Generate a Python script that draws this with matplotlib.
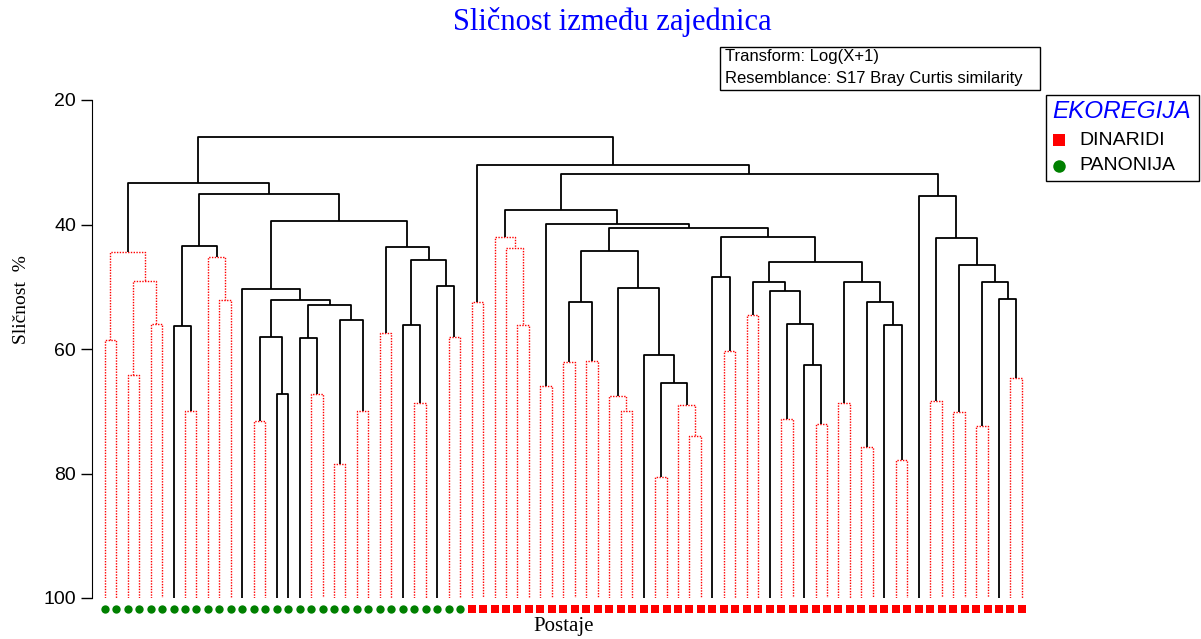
import matplotlib
matplotlib.use("Agg")
import matplotlib.pyplot as plt
from matplotlib.patches import Rectangle

# leaves: 0..31 PANONIJA, 32..80 DINARIDI
n_panonija = 32
n_dinaridi = 49

# merges: (name, left child, right child, similarity %, significant)
merges = [
    ("n01", 0, 1, 58.6, False),
    ("n23", 2, 3, 64.1, False),
    ("n45", 4, 5, 56.0, False),
    ("n2345", "n23", "n45", 49.0, False),
    ("A", "n01", "n2345", 44.4, False),
    ("n78", 7, 8, 70.0, False),
    ("n678", 6, "n78", 56.3, True),
    ("n1011", 10, 11, 52.1, False),
    ("n911", 9, "n1011", 45.2, False),
    ("B", "n678", "n911", 43.4, True),
    ("n1314", 13, 14, 71.5, False),
    ("n1516", 15, 16, 67.3, True),
    ("n1316", "n1314", "n1516", 58.0, True),
    ("n1819", 18, 19, 67.3, False),
    ("n1719", 17, "n1819", 58.3, True),
    ("n2021", 20, 21, 78.5, False),
    ("n2223", 22, 23, 69.9, False),
    ("C1", "n2021", "n2223", 55.4, True),
    ("C2", "n1719", "C1", 53.0, True),
    ("C3", "n1316", "C2", 52.1, True),
    ("C4", 12, "C3", 50.4, True),
    ("n2425", 24, 25, 57.5, False),
    ("n2728", 27, 28, 68.6, False),
    ("n2628", 26, "n2728", 56.2, True),
    ("n3031", 30, 31, 58.0, False),
    ("n2931", 29, "n3031", 49.8, True),
    ("D", "n2628", "n2931", 45.7, True),
    ("E", "n2425", "D", 43.6, True),
    ("F", "C4", "E", 39.4, True),
    ("G", "B", "F", 35.1, True),
    ("H", "A", "G", 33.4, True),
    ("n3233", 32, 33, 52.5, False),
    ("n3637", 36, 37, 56.2, False),
    ("n3537", 35, "n3637", 43.8, False),
    ("R1", 34, "n3537", 42.0, False),
    ("n3839", 38, 39, 65.9, False),
    ("n4041", 40, 41, 62.1, False),
    ("n4243", 42, 43, 61.9, False),
    ("n4043", "n4041", "n4243", 52.4, True),
    ("n4546", 45, 46, 69.9, False),
    ("n4446", 44, "n4546", 67.5, False),
    ("n4849", 48, 49, 80.6, False),
    ("n5152", 51, 52, 74.0, False),
    ("n5052", 50, "n5152", 69.0, False),
    ("n4852", "n4849", "n5052", 65.5, True),
    ("n4752", 47, "n4852", 61.0, True),
    ("n4452", "n4446", "n4752", 50.2, True),
    ("n4052", "n4043", "n4452", 44.2, True),
    ("n5455", 54, 55, 60.4, False),
    ("n5355", 53, "n5455", 48.5, True),
    ("n5657", 56, 57, 54.6, False),
    ("n5960", 59, 60, 71.3, False),
    ("n6263", 62, 63, 72.1, False),
    ("n6163", 61, "n6263", 62.5, True),
    ("n5963", "n5960", "n6163", 56.0, True),
    ("n5863", 58, "n5963", 50.7, True),
    ("n5663", "n5657", "n5863", 49.3, True),
    ("n6465", 64, 65, 68.7, False),
    ("n6667", 66, 67, 75.7, False),
    ("n6970", 69, 70, 77.9, False),
    ("n6870", 68, "n6970", 56.2, True),
    ("n6670", "n6667", "n6870", 52.4, True),
    ("n6470", "n6465", "n6670", 49.2, True),
    ("n5670", "n5663", "n6470", 46.1, True),
    ("n5370", "n5355", "n5670", 42.0, True),
    ("n4070", "n4052", "n5370", 40.5, True),
    ("n3870", "n3839", "n4070", 39.9, True),
    ("n3470", "R1", "n3870", 37.7, True),
    ("n7273", 72, 73, 68.3, False),
    ("n7475", 74, 75, 70.2, False),
    ("n7677", 76, 77, 72.3, False),
    ("n7980", 79, 80, 64.7, False),
    ("n7880", 78, "n7980", 51.9, True),
    ("n7680", "n7677", "n7880", 49.2, True),
    ("n7480", "n7475", "n7680", 46.5, True),
    ("n7280", "n7273", "n7480", 42.1, True),
    ("T", 71, "n7280", 35.4, True),
    ("n3480", "n3470", "T", 31.9, True),
    ("n3280", "n3233", "n3480", 30.4, True),
    ("root", "H", "n3280", 26.0, True),
]

yticks = [20, 40, 60, 80, 100]

W, H_px = 1201, 639
fig = plt.figure(figsize=(W / 100, H_px / 100), dpi=100)
ax = fig.add_axes([92 / W, 41 / H_px, 943 / W, 498 / H_px])

pos = {}
height = {}
n_leaves = n_panonija + n_dinaridi
for i in range(n_leaves):
    pos[i] = i
    height[i] = 100

for name, a, b, sim, sig in merges:
    pos[name] = (pos[a] + pos[b]) / 2
    height[name] = sim
    if sig:
        kw = dict(color="black", lw=1.3, ls="-")
    else:
        kw = dict(color="#ff0000", lw=1.0, ls=(0, (1, 1)))
    ax.plot([pos[a], pos[a], pos[b], pos[b]],
            [height[a], sim, sim, height[b]], solid_capstyle="butt", **kw)

# leaf markers
ax.plot(range(n_panonija), [101.8] * n_panonija, "o", color="#008000",
        ms=6, mew=0, clip_on=False)
ax.plot(range(n_panonija, n_leaves), [101.8] * n_dinaridi, "s",
        color="#ff0000", ms=6.4, mew=0, clip_on=False)

ax.set_xlim(-1.11, 81.14)
ax.set_ylim(100, 20)
ax.set_yticks(yticks)
ax.set_xticks([])
for s in ["top", "right", "bottom"]:
    ax.spines[s].set_visible(False)
ax.tick_params(axis="y", length=8, width=1, labelsize=14)
for lab in ax.get_yticklabels():
    lab.set_fontfamily("Liberation Sans")

ax.set_ylabel("Sličnost  %", family="Liberation Serif", fontsize=14)
ax.yaxis.set_label_coords(-62 / 943, 0.6)
ax.set_xlabel("Postaje", family="Liberation Serif", fontsize=15, labelpad=14)
fig.text(612 / W, 1 - 22 / H_px, "Sličnost između zajednica", color="#0000ff",
         family="Liberation Serif", fontsize=22, ha="center", va="center")

# transform / resemblance box
fig.patches.append(Rectangle((720 / W, 1 - 90 / H_px), 320 / W, 43 / H_px,
                             transform=fig.transFigure, fill=False,
                             edgecolor="black", lw=1))
fig.text(725 / W, 1 - 57 / H_px, "Transform: Log(X+1)", family="Liberation Sans",
         fontsize=12, va="center")
fig.text(725 / W, 1 - 78 / H_px, "Resemblance: S17 Bray Curtis similarity",
         family="Liberation Sans", fontsize=12, va="center")

# legend box
fig.patches.append(Rectangle((1046 / W, 1 - 181 / H_px), 153 / W, 86 / H_px,
                             transform=fig.transFigure, fill=False,
                             edgecolor="black", lw=1))
fig.text(1052 / W, 1 - 111 / H_px, "EKOREGIJA", color="#0000ff",
         family="Liberation Sans", style="italic", fontsize=17.5, va="center")
fig.lines.append(plt.Line2D([1059 / W], [1 - 140 / H_px], marker="s",
                            color="#ff0000", ms=8, mew=0,
                            transform=fig.transFigure))
fig.lines.append(plt.Line2D([1059 / W], [1 - 166 / H_px], marker="o",
                            color="#008000", ms=9, mew=0,
                            transform=fig.transFigure))
fig.text(1079 / W, 1 - 140 / H_px, "DINARIDI", family="Liberation Sans",
         fontsize=14, va="center")
fig.text(1079 / W, 1 - 166 / H_px, "PANONIJA", family="Liberation Sans",
         fontsize=14, va="center")

fig.savefig("out.png", dpi=100)
